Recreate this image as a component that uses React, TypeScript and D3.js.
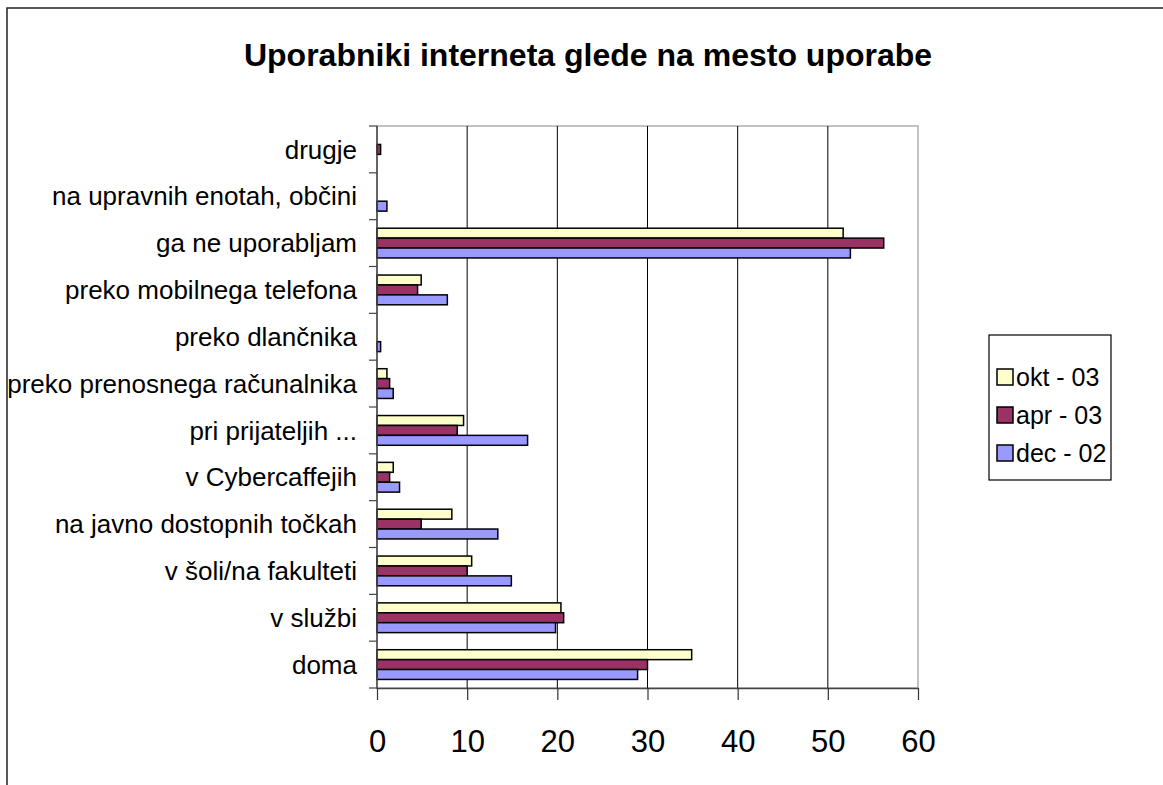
import { useEffect, useRef } from 'react';
import * as d3 from 'd3';

const WIDTH = 1163;
const HEIGHT = 785;
const PLOT = { left: 377, right: 918, top: 126, bottom: 688 };

// categories listed bottom -> top as in the original chart
const categories = [
  'doma',
  'v službi',
  'v šoli/na fakulteti',
  'na javno dostopnih točkah',
  'v Cybercaffejih',
  'pri prijateljih ...',
  'preko prenosnega računalnika',
  'preko dlančnika',
  'preko mobilnega telefona',
  'ga ne uporabljam',
  'na upravnih enotah, občini',
  'drugje',
];

const seriesNames = ['okt - 03', 'apr - 03', 'dec - 02'];
const seriesColors = ['#FFFFCC', '#993366', '#9999FF'];

const okt03 = [34.9, 20.4, 10.5, 8.3, 1.8, 9.6, 1.1, 0, 4.9, 51.7, 0, 0];
const apr03 = [30.0, 20.7, 10.0, 4.9, 1.4, 8.9, 1.4, 0, 4.5, 56.2, 0, 0.4];
const dec02 = [28.9, 19.8, 14.9, 13.4, 2.5, 16.7, 1.8, 0.4, 7.8, 52.5, 1.1, 0];

const xTicks = [0, 10, 20, 30, 40, 50, 60];

export default function App() {
  const svgRef = useRef<SVGSVGElement>(null);

  useEffect(() => {
    if (!svgRef.current) return;
    const svg = d3.select(svgRef.current);
    svg.selectAll('*').remove();

    const font = 'Liberation Sans, Arial, sans-serif';
    const values = [okt03, apr03, dec02];

    const x = d3.scaleLinear().domain([0, 60]).range([PLOT.left, PLOT.right]);
    // reversed so first category sits at the bottom
    const y = d3
      .scaleBand<string>()
      .domain([...categories].reverse())
      .range([PLOT.top, PLOT.bottom])
      .paddingInner(0.365)
      .paddingOuter(0.1825);
    const inner = d3.scaleBand<number>().domain([0, 1, 2]).range([0, y.bandwidth()]);

    // outer chart frame
    svg
      .append('rect')
      .attr('x', 7)
      .attr('y', 8)
      .attr('width', WIDTH + 20)
      .attr('height', HEIGHT + 20)
      .attr('fill', 'white')
      .attr('stroke', '#222')
      .attr('stroke-width', 1.5);

    // title
    svg
      .append('text')
      .attr('x', 588)
      .attr('y', 66)
      .attr('text-anchor', 'middle')
      .style('font-family', font)
      .style('font-size', '32px')
      .style('font-weight', 'bold')
      .text('Uporabniki interneta glede na mesto uporabe');

    // plot area border
    svg
      .append('rect')
      .attr('x', PLOT.left)
      .attr('y', PLOT.top)
      .attr('width', PLOT.right - PLOT.left)
      .attr('height', PLOT.bottom - PLOT.top)
      .attr('fill', 'white')
      .attr('stroke', '#999')
      .attr('stroke-width', 1.2);

    // gridlines
    svg
      .append('g')
      .selectAll('line')
      .data(xTicks.slice(1, -1))
      .join('line')
      .attr('x1', (d) => x(d))
      .attr('x2', (d) => x(d))
      .attr('y1', PLOT.top)
      .attr('y2', PLOT.bottom)
      .attr('stroke', '#000')
      .attr('stroke-width', 1);

    // bars
    values.forEach((vals, si) => {
      svg
        .append('g')
        .selectAll('rect')
        .data(vals.map((v, i) => ({ v, c: categories[i] })).filter((d) => d.v > 0))
        .join('rect')
        .attr('x', x(0))
        .attr('y', (d) => (y(d.c) as number) + (inner(si) as number))
        .attr('width', (d) => x(d.v) - x(0))
        .attr('height', inner.bandwidth())
        .attr('fill', seriesColors[si])
        .attr('stroke', '#000')
        .attr('stroke-width', 1.5);
    });

    // x axis
    const xAxis = svg
      .append('g')
      .attr('transform', `translate(0,${PLOT.bottom})`)
      .call(d3.axisBottom(x).tickValues(xTicks).tickSize(12).tickPadding(30).tickSizeOuter(0));
    xAxis.select('.domain').attr('stroke', '#444').attr('stroke-width', 1.5);
    xAxis.selectAll('.tick line').attr('stroke', '#333').attr('stroke-width', 1.2);
    xAxis
      .selectAll('.tick text')
      .style('font-family', font)
      .style('font-size', '31px')
      .attr('fill', '#000');

    // y axis: tick marks between categories
    const yAxisG = svg.append('g');
    yAxisG
      .append('line')
      .attr('x1', PLOT.left)
      .attr('x2', PLOT.left)
      .attr('y1', PLOT.top)
      .attr('y2', PLOT.bottom + 1)
      .attr('stroke', '#444')
      .attr('stroke-width', 1.5);
    const step = y.step();
    yAxisG
      .selectAll('line.tk')
      .data(d3.range(categories.length + 1))
      .join('line')
      .attr('class', 'tk')
      .attr('x1', PLOT.left - 8)
      .attr('x2', PLOT.left)
      .attr('y1', (i) => PLOT.top + i * step)
      .attr('y2', (i) => PLOT.top + i * step)
      .attr('stroke', '#444')
      .attr('stroke-width', 1.2);
    yAxisG
      .selectAll('text')
      .data(categories)
      .join('text')
      .attr('x', 357)
      .attr('y', (d) => (y(d) as number) + y.bandwidth() / 2)
      .attr('dy', '0.35em')
      .attr('text-anchor', 'end')
      .style('font-family', font)
      .style('font-size', '26px')
      .text((d) => d);

    // legend
    const lg = svg.append('g');
    lg.append('rect')
      .attr('x', 989)
      .attr('y', 335)
      .attr('width', 122)
      .attr('height', 145)
      .attr('fill', 'white')
      .attr('stroke', '#000')
      .attr('stroke-width', 1.2);
    seriesNames.forEach((name, i) => {
      const cy = 377 + i * 38;
      lg.append('rect')
        .attr('x', 997)
        .attr('y', cy - 8)
        .attr('width', 16)
        .attr('height', 16)
        .attr('fill', seriesColors[i])
        .attr('stroke', '#000')
        .attr('stroke-width', 1.5);
      lg.append('text')
        .attr('x', 1016)
        .attr('y', cy)
        .attr('dy', '0.36em')
        .style('font-family', font)
        .style('font-size', '25px')
        .text(name);
    });
  }, []);

  return (
    <svg
      ref={svgRef}
      width={WIDTH}
      height={HEIGHT}
      style={{ position: 'fixed', left: 0, top: 0, background: 'white' }}
    />
  );
}
